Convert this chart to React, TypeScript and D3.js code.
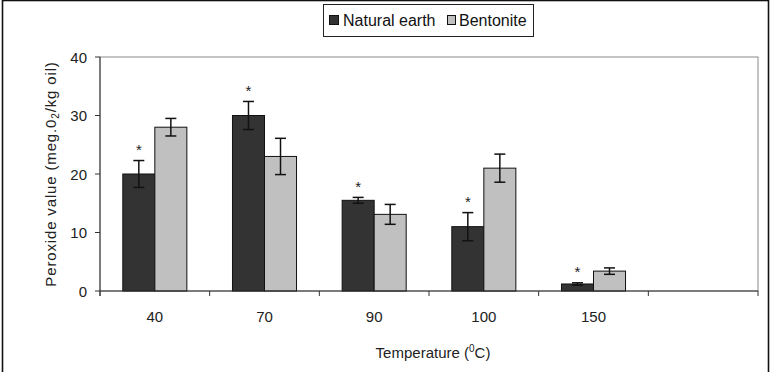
import React from "react";
import * as d3 from "d3";

// temperature groups (last slot on the axis is left empty)
const tickLabels = ["40", "70", "90", "100", "150", ""];
const seriesNames = ["Natural earth", "Bentonite"];
const naturalEarth = [20, 30, 15.5, 11, 1.2];
const naturalEarthErr = [2.3, 2.4, 0.5, 2.4, 0.2];
const bentonite = [28, 23, 13.1, 21, 3.4];
const bentoniteErr = [1.5, 3.1, 1.7, 2.4, 0.55];
const significant = [true, true, true, true, true];
const yTicks = [0, 10, 20, 30, 40];

const colors = ["#333333", "#c0c0c0"];
const font = "'Liberation Sans', Arial, sans-serif";

const W = 773;
const H = 372;
const plot = { left: 100, right: 758, top: 57, bottom: 291 };

const App = () => {
  const x = d3
    .scaleBand<string>()
    .domain(tickLabels.map((d, i) => String(i)))
    .range([plot.left, plot.right])
    .paddingInner(0.416)
    .paddingOuter(0.208);
  const xs = d3
    .scaleBand<string>()
    .domain(seriesNames)
    .range([0, x.bandwidth()]);
  const y = d3.scaleLinear().domain([0, 40]).range([plot.bottom, plot.top]);

  const step = x.step();
  const bounds = d3.range(tickLabels.length + 1).map((i) => plot.left + i * step);

  const series = [
    { name: seriesNames[0], values: naturalEarth, err: naturalEarthErr },
    { name: seriesNames[1], values: bentonite, err: bentoniteErr },
  ];

  return (
    <svg
      width={W}
      height={H}
      style={{ position: "absolute", left: 0, top: 0, fontFamily: font }}
    >
      <rect x={0} y={0} width={W} height={H} fill="#fff" />
      <rect x={2.5} y={0.5} width={766} height={390} fill="none" stroke="#111" strokeWidth={1.6} />

      {/* plot frame */}
      <rect
        x={plot.left}
        y={plot.top}
        width={plot.right - plot.left}
        height={plot.bottom - plot.top}
        fill="none"
        stroke="#8a8a8a"
        strokeWidth={1}
      />

      {/* bars */}
      {series.map((s, si) =>
        s.values.map((v, i) => {
          const bx = (x(String(i)) as number) + (xs(s.name) as number);
          const bw = xs.bandwidth();
          const cx = bx + bw / 2;
          const hi = y(v + s.err[i]);
          const lo = y(v - s.err[i]);
          return (
            <g key={`${si}-${i}`}>
              <rect
                x={bx}
                y={y(v)}
                width={bw}
                height={y(0) - y(v)}
                fill={colors[si]}
                stroke="#111"
                strokeWidth={1}
              />
              <g stroke="#111" strokeWidth={1.5}>
                <line x1={cx} x2={cx} y1={hi} y2={lo} />
                <line x1={cx - 5.5} x2={cx + 5.5} y1={hi} y2={hi} />
                <line x1={cx - 5.5} x2={cx + 5.5} y1={lo} y2={lo} />
              </g>
              {si === 0 && significant[i] && (
                <text x={cx} y={hi - 5.5} textAnchor="middle" fontSize={15} fill="#222">
                  *
                </text>
              )}
            </g>
          );
        })
      )}

      {/* y axis */}
      <line x1={plot.left} x2={plot.left} y1={plot.top} y2={plot.bottom + 5} stroke="#333" />
      {yTicks.map((t) => (
        <g key={t}>
          <line x1={plot.left - 5} x2={plot.left} y1={y(t)} y2={y(t)} stroke="#333" />
          <text x={plot.left - 13} y={y(t) + 5.5} textAnchor="end" fontSize={15} fill="#222">
            {t}
          </text>
        </g>
      ))}

      {/* x axis */}
      <line x1={plot.left} x2={plot.right} y1={plot.bottom} y2={plot.bottom} stroke="#333" />
      {bounds.map((b, i) => (
        <line key={i} x1={b} x2={b} y1={plot.bottom} y2={plot.bottom + 5} stroke="#333" />
      ))}
      {tickLabels.map((t, i) => (
        <text
          key={i}
          x={(x(String(i)) as number) + x.bandwidth() / 2}
          y={322}
          textAnchor="middle"
          fontSize={15}
          fill="#222"
        >
          {t}
        </text>
      ))}

      {/* axis titles */}
      <text x={(plot.left + plot.right) / 2 + 4} y={358} textAnchor="middle" fontSize={15} fill="#222">
        Temperature (
        <tspan fontSize={10} dy={-6}>
          0
        </tspan>
        <tspan dy={6}>C)</tspan>
      </text>
      <text
        transform={`translate(56,${(plot.top + plot.bottom) / 2}) rotate(-90)`}
        textAnchor="middle"
        fontSize={15}
        letterSpacing={0.85}
        fill="#222"
      >
        Peroxide value (meg.0
        <tspan fontSize={10} dy={3}>
          2
        </tspan>
        <tspan dy={-3}>/kg oil)</tspan>
      </text>

      {/* legend */}
      <rect x={323.5} y={4.5} width={210} height={32} fill="#fff" stroke="#222" strokeWidth={1} />
      <rect x={329.5} y={15.5} width={9} height={9} fill={colors[0]} stroke="#111" />
      <text x={343} y={26} fontSize={16} fill="#111">
        {seriesNames[0]}
      </text>
      <rect x={447.5} y={15.5} width={8} height={9} fill={colors[1]} stroke="#111" />
      <text x={459} y={26} fontSize={16} fill="#111">
        {seriesNames[1]}
      </text>
    </svg>
  );
};

export default App;
